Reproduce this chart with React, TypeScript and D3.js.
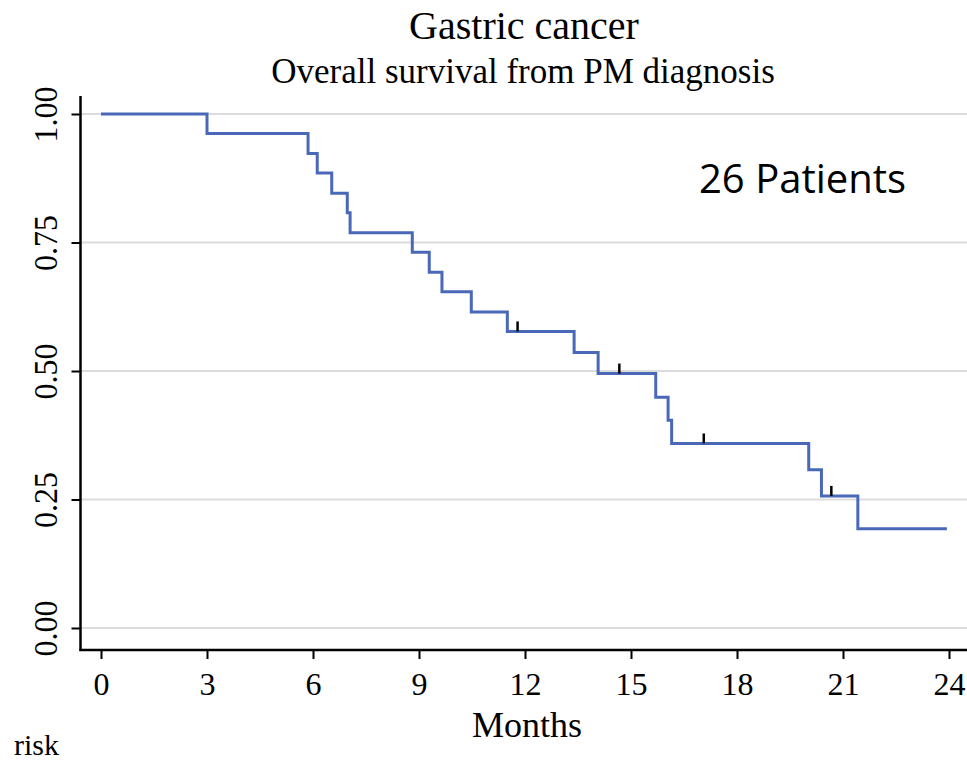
import React, { useRef, useEffect } from "react";
import * as d3 from "d3";

// Kaplan-Meier steps (months, survival)
const eventTimes = [0, 3.0, 5.86, 6.12, 6.53, 6.97, 7.05, 8.81, 9.29, 9.65, 10.48, 11.5, 13.39, 14.07, 15.7, 16.05, 16.15, 20.03, 20.39, 21.42];
const survival = [1, 0.962, 0.923, 0.885, 0.846, 0.808, 0.769, 0.731, 0.692, 0.654, 0.615, 0.577, 0.536, 0.495, 0.449, 0.404, 0.359, 0.308, 0.257, 0.193];
const lastTime = 23.94;
const censorTimes = [11.79, 14.67, 17.06, 20.67];

const xTicks = [0, 3, 6, 9, 12, 15, 18, 21, 24];
const yTicks = [0, 0.25, 0.5, 0.75, 1];

const W = 967;
const H = 764;
const serif = "'Liberation Serif', 'Times New Roman', serif";

// survival at time t (step function)
const survAt = (t: number) => {
  let s = 1;
  eventTimes.forEach((et, i) => {
    if (et <= t) s = survival[i];
  });
  return s;
};

const App = () => {
  const svgRef = useRef<SVGSVGElement>(null);

  useEffect(() => {
    const svg = d3.select(svgRef.current);
    svg.selectAll("*").remove();

    const x = d3.scaleLinear().domain([0, 24]).range([101, 949]);
    const y = d3.scaleLinear().domain([0, 1]).range([628, 114]);

    const axisX = 80.5;
    const axisY = 650;

    // gridlines
    svg
      .append("g")
      .selectAll("line")
      .data(yTicks)
      .join("line")
      .attr("x1", axisX)
      .attr("x2", W)
      .attr("y1", (d) => y(d))
      .attr("y2", (d) => y(d))
      .attr("stroke", "#dcdcdc")
      .attr("stroke-width", 2);

    // y axis
    const yAxis = d3
      .axisLeft(y)
      .tickValues(yTicks)
      .tickSize(9)
      .tickSizeOuter(0)
      .tickFormat(d3.format(".2f"));
    const gy = svg.append("g").attr("transform", `translate(${axisX},0)`).call(yAxis);
    gy.select(".domain").remove();
    gy.selectAll(".tick line").attr("stroke", "#000").attr("stroke-width", 2);
    gy.selectAll(".tick text")
      .attr("x", null)
      .attr("dy", null)
      .attr("transform", "translate(-24,0) rotate(-90) scale(1,1.05)")
      .attr("text-anchor", "middle")
      .attr("font-family", serif)
      .attr("font-size", 32)
      .attr("fill", "#000");
    svg
      .append("line")
      .attr("x1", axisX)
      .attr("x2", axisX)
      .attr("y1", 96)
      .attr("y2", axisY + 1)
      .attr("stroke", "#000")
      .attr("stroke-width", 2.5);

    // x axis
    const xAxis = d3.axisBottom(x).tickValues(xTicks).tickSize(9).tickSizeOuter(0);
    const gx = svg.append("g").attr("transform", `translate(0,${axisY})`).call(xAxis);
    gx.select(".domain").remove();
    gx.selectAll(".tick line").attr("stroke", "#000").attr("stroke-width", 2);
    gx.selectAll(".tick text")
      .attr("y", 45)
      .attr("dy", null)
      .attr("font-family", serif)
      .attr("font-size", 32)
      .attr("fill", "#000");
    svg
      .append("line")
      .attr("x1", axisX - 1)
      .attr("x2", W)
      .attr("y1", axisY)
      .attr("y2", axisY)
      .attr("stroke", "#000")
      .attr("stroke-width", 2.5);

    // survival curve
    const pts: [number, number][] = eventTimes.map((t, i) => [t, survival[i]]);
    pts.push([lastTime, survival[survival.length - 1]]);
    const line = d3
      .line<[number, number]>()
      .x((d) => x(d[0]))
      .y((d) => y(d[1]))
      .curve(d3.curveStepAfter);
    svg
      .append("path")
      .datum(pts)
      .attr("d", line)
      .attr("fill", "none")
      .attr("stroke", "#4a68b8")
      .attr("stroke-width", 3);

    // censor marks
    svg
      .append("g")
      .selectAll("line")
      .data(censorTimes)
      .join("line")
      .attr("x1", (d) => x(d))
      .attr("x2", (d) => x(d))
      .attr("y1", (d) => y(survAt(d)))
      .attr("y2", (d) => y(survAt(d)) - 10)
      .attr("stroke", "#000")
      .attr("stroke-width", 2.5);

    // texts
    svg
      .append("text")
      .attr("x", 524)
      .attr("y", 39)
      .attr("text-anchor", "middle")
      .attr("font-family", serif)
      .attr("font-size", 40)
      .text("Gastric cancer");
    svg
      .append("text")
      .attr("x", 523)
      .attr("y", 83)
      .attr("text-anchor", "middle")
      .attr("font-family", serif)
      .attr("font-size", 35)
      .text("Overall survival from PM diagnosis");
    svg
      .append("text")
      .attr("x", 527)
      .attr("y", 737)
      .attr("text-anchor", "middle")
      .attr("font-family", serif)
      .attr("font-size", 36)
      .text("Months");
    svg
      .append("text")
      .attr("x", 699)
      .attr("y", 193)
      .attr("font-family", "'Open Sans', sans-serif")
      .attr("font-size", 40)
      .text("26 Patients");
    svg
      .append("text")
      .attr("x", 14)
      .attr("y", 755)
      .attr("font-family", serif)
      .attr("font-size", 30)
      .text("risk");
  }, []);

  return (
    <svg
      ref={svgRef}
      width={W}
      height={H}
      style={{ position: "absolute", left: 0, top: 0, background: "#fff", display: "block" }}
    />
  );
};

export default App;
